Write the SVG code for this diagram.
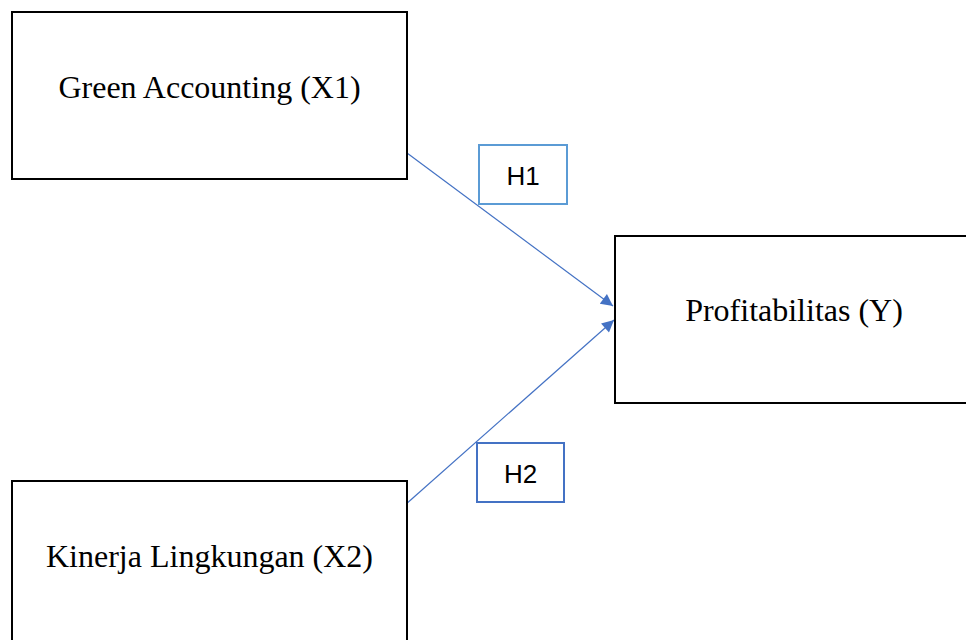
<svg xmlns="http://www.w3.org/2000/svg" width="966" height="640" viewBox="0 0 966 640">
<style>
.node{fill:#fff;stroke:#000;stroke-width:2}
.lbl{font-family:"Liberation Serif","Times New Roman",serif;font-size:32px;fill:#000;text-anchor:middle}
.hl{font-family:"Liberation Sans",Arial,sans-serif;font-size:26px;fill:#000;text-anchor:middle}
.conn{stroke:#4472C4;stroke-width:1.2;fill:none;marker-end:url(#ah)}
</style>
<defs>
<marker id="ah" viewBox="0 0 10 10" refX="10" refY="5" markerWidth="14" markerHeight="12" markerUnits="userSpaceOnUse" orient="auto">
<path d="M0,0 L10,5 L0,10 z" fill="#4472C4"/>
</marker>
</defs>
<rect width="966" height="640" fill="#fff"/>
<g id="connectors">
<line class="conn" x1="407" y1="153" x2="613" y2="306"/>
<line class="conn" x1="405" y1="505" x2="614" y2="320"/>
</g>
<g id="x1">
<rect class="node" x="12" y="12" width="395" height="167"/>
<text class="lbl" x="209.5" y="98">Green Accounting (X1)</text>
</g>
<g id="y">
<rect class="node" x="615" y="236" width="360" height="167"/>
<text class="lbl" x="794" y="321">Profitabilitas (Y)</text>
</g>
<g id="x2">
<rect class="node" x="12" y="481" width="395" height="180"/>
<text class="lbl" x="209.5" y="567">Kinerja Lingkungan (X2)</text>
</g>
<g id="h1">
<rect x="479" y="145" width="88" height="59" fill="#fff" stroke="#5B9BD5" stroke-width="2"/>
<text class="hl" x="523" y="185">H1</text>
</g>
<g id="h2">
<rect x="477" y="443" width="87" height="59" fill="#fff" stroke="#4472C4" stroke-width="2"/>
<text class="hl" x="520.5" y="483">H2</text>
</g>
</svg>
